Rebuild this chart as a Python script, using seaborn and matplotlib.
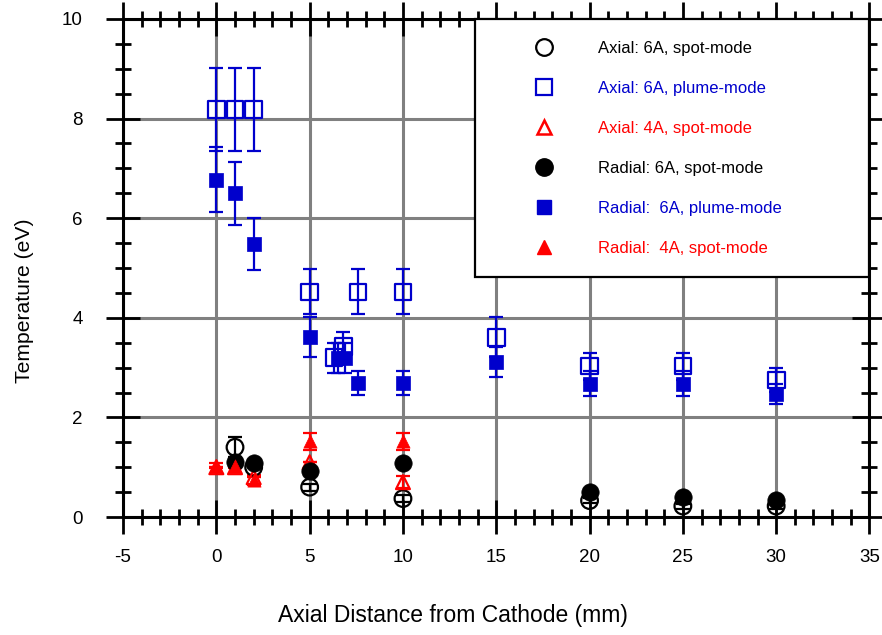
import matplotlib
matplotlib.use('Agg')
import matplotlib.pyplot as plt
from matplotlib.lines import Line2D
from matplotlib.ticker import MultipleLocator
import seaborn as sns

# 資料：軸向 / 徑向電子溫度
ax6_spot_x = [1, 2, 5, 10, 20, 25, 30]
ax6_spot_y = [1.40, 1.00, 0.60, 0.37, 0.33, 0.22, 0.22]
ax6_spot_err = [0.20, 0.0, 0.07, 0.07, 0.05, 0.05, 0.05]

ax6_plume_x = [0, 1, 2, 5, 6.3, 6.8, 7.6, 10, 15, 20, 25, 30]
ax6_plume_y = [8.18, 8.18, 8.18, 4.52, 3.20, 3.42, 4.52, 4.52, 3.61, 3.03, 3.03, 2.75]
ax6_plume_err = [0.83, 0.83, 0.83, 0.45, 0.30, 0.30, 0.45, 0.45, 0.40, 0.27, 0.27, 0.24]

ax4_spot_x = [0, 1, 2, 5, 10]
ax4_spot_y = [1.00, 1.00, 0.80, 1.10, 0.70]
ax4_spot_err = [0.0, 0.0, 0.0, 0.0, 0.12]

rad6_spot_x = [1, 2, 5, 10, 20, 25, 30]
rad6_spot_y = [1.10, 1.08, 0.93, 1.08, 0.50, 0.40, 0.35]

rad6_plume_x = [0, 1, 2, 5, 6.5, 6.9, 7.6, 10, 15, 20, 25, 30]
rad6_plume_y = [6.77, 6.50, 5.48, 3.62, 3.20, 3.20, 2.69, 2.69, 3.12, 2.68, 2.68, 2.47]
rad6_plume_err = [0.65, 0.63, 0.53, 0.40, 0.30, 0.30, 0.25, 0.25, 0.30, 0.25, 0.25, 0.20]

rad4_spot_x = [0, 1, 2, 5, 10]
rad4_spot_y = [1.03, 1.03, 0.75, 1.52, 1.52]
rad4_spot_err = [0.05, 0.05, 0.10, 0.17, 0.17]

labels = ['Axial: 6A, spot-mode', 'Axial: 6A, plume-mode', 'Axial: 4A, spot-mode',
          'Radial: 6A, spot-mode', 'Radial:  6A, plume-mode', 'Radial:  4A, spot-mode']

BLUE = '#0000CC'
RED = '#FF0000'
BLACK = '#000000'

sns.set_theme(style='white')
plt.rcParams['font.family'] = ['Liberation Sans', 'DejaVu Sans']
plt.rcParams['axes.unicode_minus'] = False

fig = plt.figure(figsize=(8.82, 6.35), dpi=100)
ax = fig.add_axes([0.1395, 0.1858, 0.8463, 0.7843])

# 誤差棒
def draw_err(x, y, e, color):
    ax.errorbar(x, y, yerr=e, fmt='none', ecolor=color, elinewidth=1.6,
                capsize=4.8, capthick=1.6, zorder=3)

draw_err(ax6_spot_x, ax6_spot_y, ax6_spot_err, BLACK)
draw_err(ax6_plume_x, ax6_plume_y, ax6_plume_err, BLUE)
draw_err(ax4_spot_x, ax4_spot_y, ax4_spot_err, RED)
draw_err(rad6_plume_x, rad6_plume_y, rad6_plume_err, BLUE)
draw_err(rad4_spot_x, rad4_spot_y, rad4_spot_err, RED)

# 空心（軸向）
sns.scatterplot(x=ax6_spot_x, y=ax6_spot_y, marker='o', s=12**2, facecolor='none',
                edgecolor=BLACK, linewidth=1.6, ax=ax, zorder=4)
sns.scatterplot(x=ax6_plume_x, y=ax6_plume_y, marker='s', s=12**2, facecolor='none',
                edgecolor=BLUE, linewidth=1.6, ax=ax, zorder=4)
sns.scatterplot(x=ax4_spot_x, y=ax4_spot_y, marker='^', s=10**2, facecolor='none',
                edgecolor=RED, linewidth=1.6, ax=ax, zorder=4)
# 實心（徑向）
sns.scatterplot(x=rad6_spot_x, y=rad6_spot_y, marker='o', s=12.5**2, color=BLACK,
                edgecolor=BLACK, linewidth=0.5, ax=ax, zorder=5)
sns.scatterplot(x=rad6_plume_x, y=rad6_plume_y, marker='s', s=10**2, color=BLUE,
                edgecolor=BLUE, linewidth=0.5, ax=ax, zorder=5)
sns.scatterplot(x=rad4_spot_x, y=rad4_spot_y, marker='^', s=9.5**2, color=RED,
                edgecolor=RED, linewidth=0.5, ax=ax, zorder=5)

ax.set_xlim(-5, 35)
ax.set_ylim(0, 10)
ax.xaxis.set_major_locator(MultipleLocator(5))
ax.xaxis.set_minor_locator(MultipleLocator(1))
ax.yaxis.set_major_locator(MultipleLocator(2))
ax.yaxis.set_minor_locator(MultipleLocator(0.5))

ax.grid(True, which='major', color='#808080', linewidth=2.2)
ax.set_axisbelow(True)

for sp in ax.spines.values():
    sp.set_color('black')
    sp.set_linewidth(2.2)
    sp.set_zorder(6)

ax.tick_params(which='major', direction='inout', length=24, width=2, color='black',
               bottom=True, left=True, top=True, right=True,
               labelsize=13.5, labelcolor='black')
ax.tick_params(which='minor', direction='inout', length=11, width=2, color='black',
               bottom=True, left=True, top=True, right=True)
ax.tick_params(axis='x', which='major', pad=11)
ax.tick_params(axis='y', which='major', pad=17)

ax.set_xlabel('Axial Distance from Cathode (mm)', fontsize=16.5, color='black')
ax.set_ylabel('Temperature (eV)', fontsize=15.2, color='black')
ax.xaxis.set_label_coords(0.4417, -0.175)
ax.yaxis.set_label_coords(-0.119, 0.434)

# 圖例
handles = [
    Line2D([], [], ls='none', marker='o', ms=12, mfc='none', mec=BLACK, mew=1.6),
    Line2D([], [], ls='none', marker='s', ms=12, mfc='none', mec=BLUE, mew=1.6),
    Line2D([], [], ls='none', marker='^', ms=10, mfc='none', mec=RED, mew=1.8),
    Line2D([], [], ls='none', marker='o', ms=12.5, mfc=BLACK, mec=BLACK),
    Line2D([], [], ls='none', marker='s', ms=10, mfc=BLUE, mec=BLUE),
    Line2D([], [], ls='none', marker='^', ms=9.5, mfc=RED, mec=RED),
]
leg = ax.legend(handles, labels, loc='upper left', bbox_to_anchor=(0.472, 0, 0.528, 1.0),
                mode='expand', borderaxespad=0, fontsize=12, frameon=True, fancybox=False,
                edgecolor='black', framealpha=1, borderpad=1.3, labelspacing=1.5,
                handlelength=5.62, handletextpad=0.42, numpoints=1,
                labelcolor=[BLACK, BLUE, RED, BLACK, BLUE, RED])
leg.get_frame().set_linewidth(1.6)
leg.set_zorder(10)

plt.savefig('out.png', dpi=100)
